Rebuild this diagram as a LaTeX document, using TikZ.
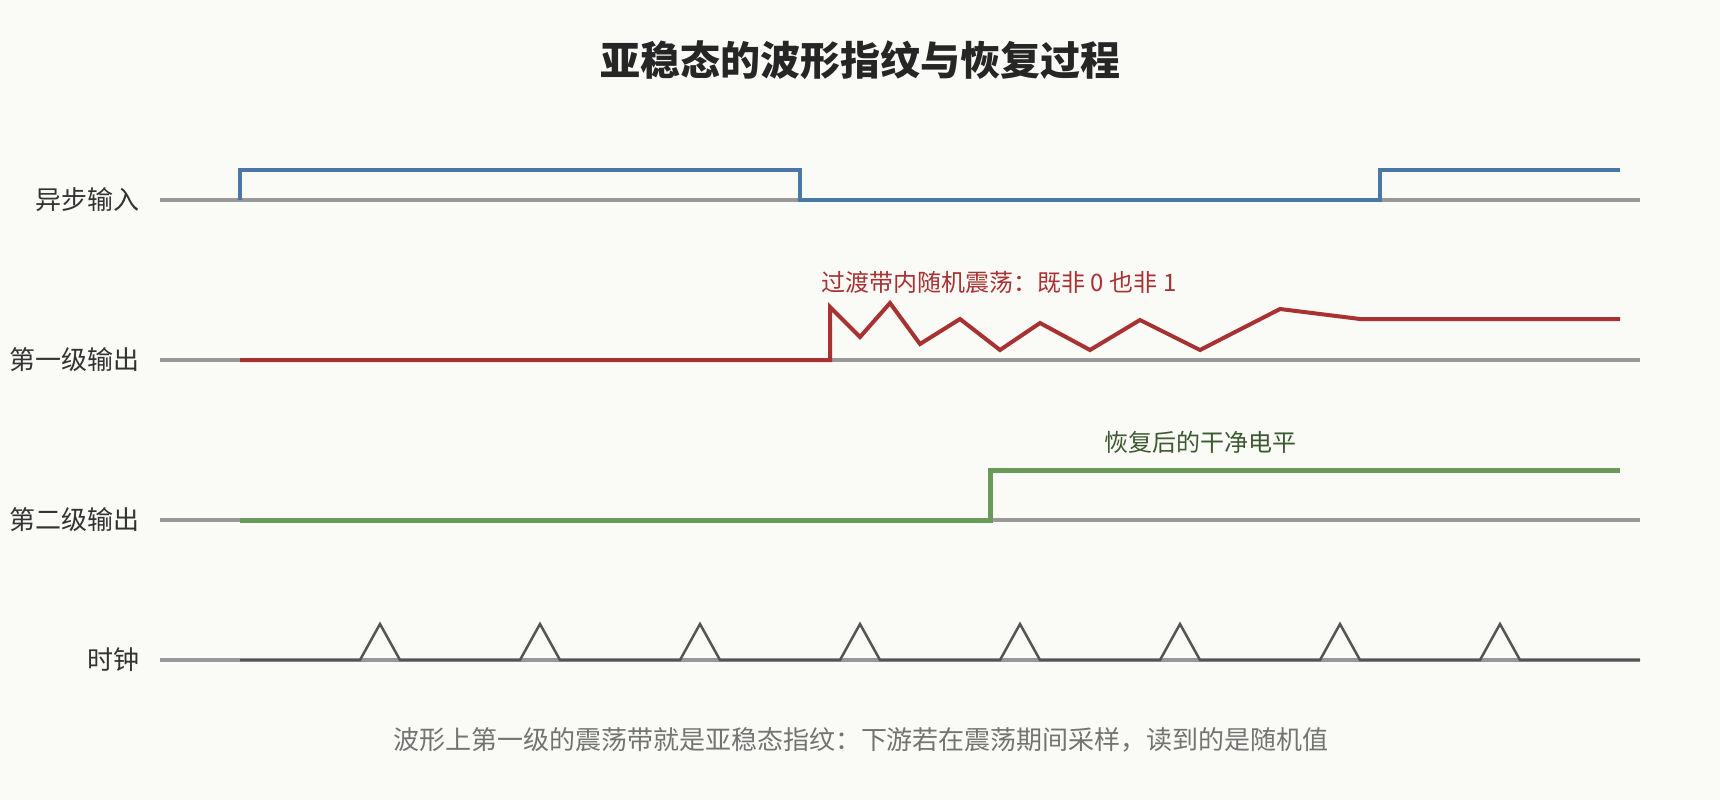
\documentclass[tikz,border=0pt]{standalone}
\usepackage{fontspec}
\setmainfont{Noto Sans CJK SC}
\usepackage{tikz}

\definecolor{bgcol}{HTML}{FAFAF6}
\definecolor{axisgray}{HTML}{999999}
\definecolor{clkgray}{HTML}{555555}
\definecolor{sigblue}{HTML}{4A78A6}
\definecolor{sigred}{HTML}{A83232}
\definecolor{siggreen}{HTML}{6A9A58}
\definecolor{notegreen}{HTML}{3B5A30}
\definecolor{textdark}{HTML}{333333}

\tikzset{
  axisline/.style={axisgray, line width=1.75pt},
  sigline/.style={line width=2.25pt, line join=miter},
  rowlabel/.style={anchor=east, inner sep=0pt, text=textdark, font=\fontsize{13pt}{15pt}\selectfont},
  notetext/.style={inner sep=0pt, font=\fontsize{12pt}{14pt}\selectfont}
}

\begin{document}
\begin{tikzpicture}[x=0.5pt, y=-0.5pt]
\fill[bgcol] (0,0) rectangle (1720,800);
\useasboundingbox (0,0) rectangle (1720,800);

% title
\node[inner sep=0pt, text=black!85, font=\fontsize{20pt}{24pt}\selectfont\bfseries] (title) at (860,60) {亚稳态的波形指纹与恢复过程};

% row labels and axes
\node[rowlabel] (lblin)  at (140,200) {异步输入};
\node[rowlabel] (lblq1)  at (140,360) {第一级输出};
\node[rowlabel] (lblq2)  at (140,520) {第二级输出};
\node[rowlabel] (lblclk) at (140,660) {时钟};

\foreach \y in {200,360,520,660}
  \draw[axisline] (160,\y) -- (1640,\y);

% async input
\draw[sigline, sigblue] (240,200) -- (240,170) -- (800,170) -- (800,200)
  -- (1380,200) -- (1380,170) -- (1620,170);

% first stage, oscillation band
\draw[sigline, sigred, line width=2pt] (240,360) -- (830,360) -- (830,307) -- (860,337)
  -- (890,303) -- (920,344) -- (960,319) -- (1000,350) -- (1040,323)
  -- (1090,350) -- (1140,320) -- (1200,350) -- (1280,309) -- (1360,319) -- (1620,319);
\node[notetext, text=sigred] (noteosc) at (999,282) {过渡带内随机震荡：既非 0 也非 1};

% second stage
\draw[sigline, siggreen, line width=2.5pt] (240,520) -- (990,520) -- (990,470) -- (1620,470);
\node[notetext, text=notegreen] (noteclean) at (1200,442) {恢复后的干净电平};

% clock
\draw[clkgray, line width=1.25pt] (240,660)
  \foreach \t in {380,540,...,1500} { -- ({\t-20},660) -- (\t,624) -- ({\t+20},660) }
  -- (1640,660);

% caption
\node[inner sep=0pt, text=black!55, font=\fontsize{13pt}{15pt}\selectfont] (caption) at (861,740)
  {波形上第一级的震荡带就是亚稳态指纹：下游若在震荡期间采样，读到的是随机值};
\end{tikzpicture}
\end{document}
